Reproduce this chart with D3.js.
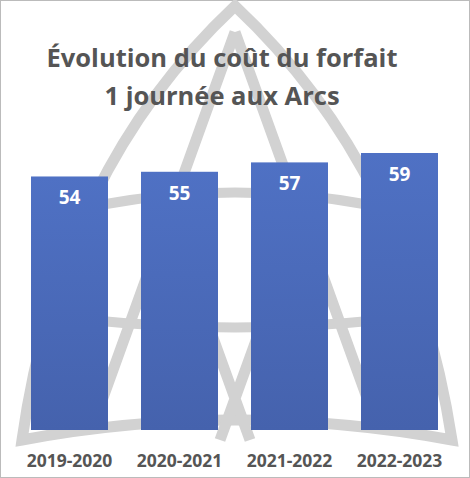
<!DOCTYPE html>
<html>
<head>
<meta charset="utf-8">
<script src="https://cdn.jsdelivr.net/npm/d3@7"></script>
<style>
  body { margin: 0; background: #fff; }
  svg { display: block; }
</style>
</head>
<body>
<svg id="chart" width="470" height="478"></svg>
<script>
const seasons = ["2019-2020", "2020-2021", "2021-2022", "2022-2023"];
const prices = [54, 55, 57, 59];
const titleLines = ["Évolution du coût du forfait", "1 journée aux Arcs"];

const svg = d3.select("#chart");
const W = 470, H = 478;

svg.append("rect").attr("x", 0.5).attr("y", 0.5).attr("width", W - 1).attr("height", H - 1)
  .attr("fill", "#fff").attr("stroke", "#bbb");

// watermark logo
const logo = svg.append("g").attr("fill", "none").attr("stroke", "#d2d2d2").attr("stroke-width", 11);
logo.append("path").attr("d", "M235,6 Q60,170 22,440 Q235,400 452,440 Q410,170 235,6 Z");
logo.append("path").attr("d", "M235,32 L95,420 M235,32 L375,420 M165,205 L250,440 M305,205 L220,440");
logo.append("path").attr("d", "M100,205 Q235,180 370,205").attr("stroke-width", 10);
logo.append("path").attr("d", "M90,320 Q235,335 380,320").attr("stroke-width", 10);

const x = d3.scaleBand().domain(seasons).range([31, 438]).paddingInner(0.3).paddingOuter(0);
const y = d3.scaleLinear().domain([0, 59]).range([430, 153]);

const grad = svg.append("defs").append("linearGradient").attr("id", "g").attr("x1", 0).attr("y1", 0).attr("x2", 0).attr("y2", 1);
grad.append("stop").attr("offset", 0).attr("stop-color", "#4f71c4");
grad.append("stop").attr("offset", 1).attr("stop-color", "#4562ad");

svg.selectAll(".bar").data(prices).join("rect")
  .attr("x", (d, i) => x(seasons[i]))
  .attr("y", d => y(d))
  .attr("width", x.bandwidth())
  .attr("height", d => y(0) - y(d))
  .attr("fill", "url(#g)");

svg.selectAll(".val").data(prices).join("text")
  .attr("x", (d, i) => x(seasons[i]) + x.bandwidth() / 2)
  .attr("y", d => y(d) + 28)
  .attr("text-anchor", "middle")
  .attr("font-family", "Open Sans, sans-serif").attr("font-weight", "bold").attr("font-size", 19)
  .attr("fill", "#fff").text(d => d);

svg.selectAll(".cat").data(seasons).join("text")
  .attr("x", d => x(d) + x.bandwidth() / 2)
  .attr("y", 467)
  .attr("text-anchor", "middle")
  .attr("font-family", "Open Sans, sans-serif").attr("font-weight", "bold").attr("font-size", 17.5)
  .attr("fill", "#555").text(d => d);

svg.selectAll(".title").data(titleLines).join("text")
  .attr("x", 222).attr("y", (d, i) => 67 + i * 38)
  .attr("text-anchor", "middle")
  .attr("font-family", "Open Sans, sans-serif").attr("font-weight", "bold").attr("font-size", 25.5)
  .attr("fill", "#555").text(d => d);
</script>
</body>
</html>
